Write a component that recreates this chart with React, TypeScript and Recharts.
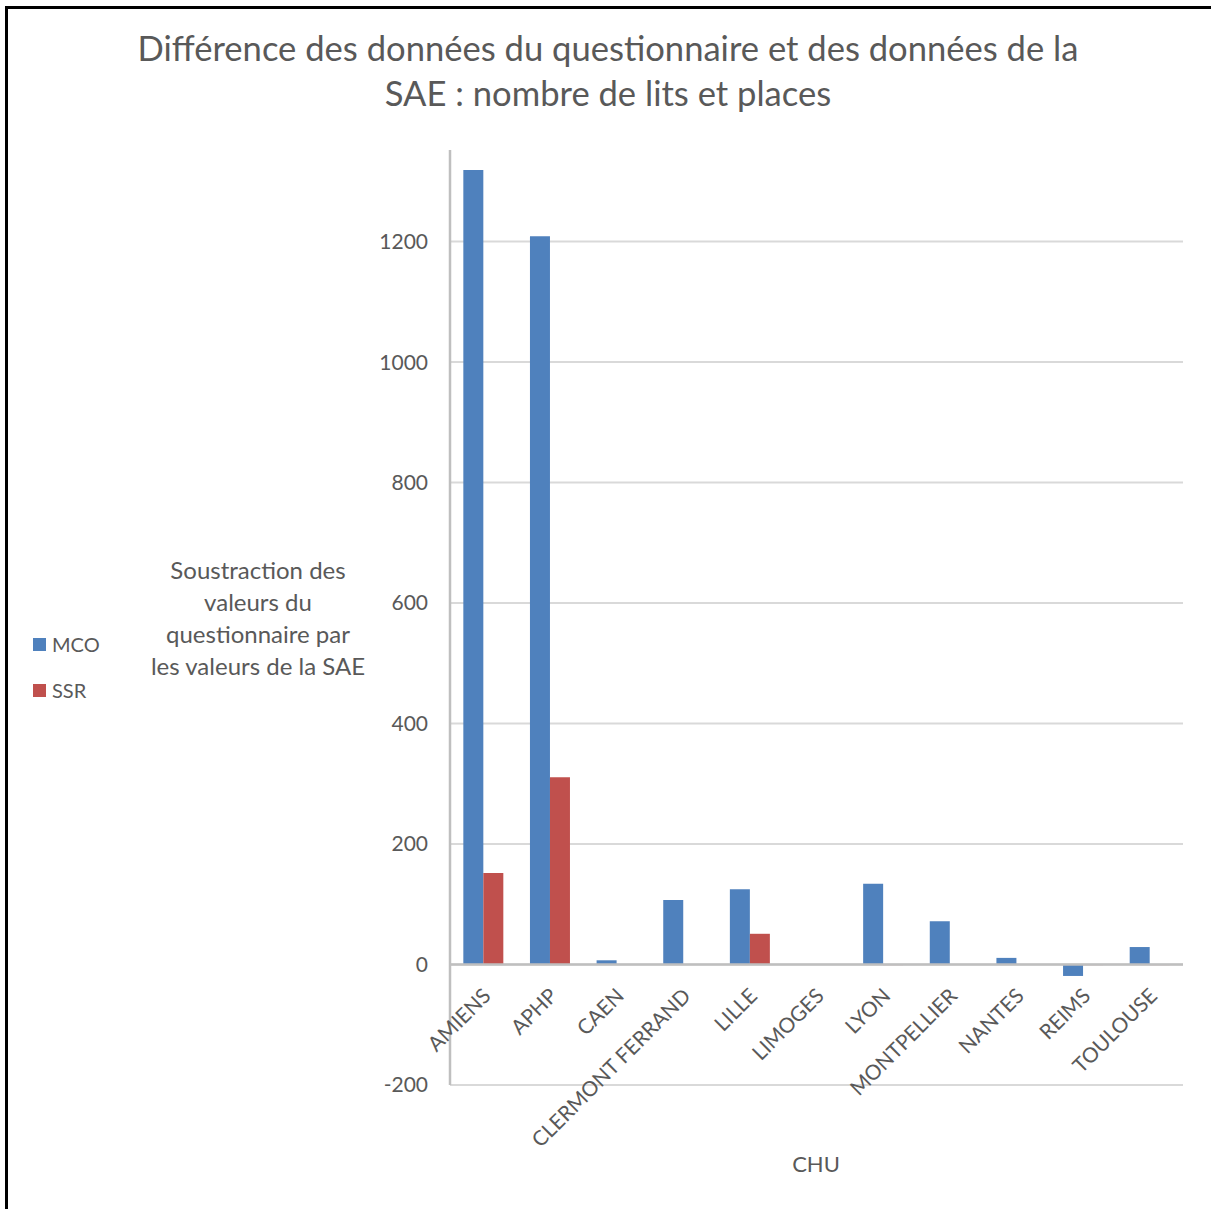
import React from 'react';
import { BarChart, Bar, XAxis, YAxis, CartesianGrid, ReferenceLine } from 'recharts';

const categories = ['AMIENS', 'APHP', 'CAEN', 'CLERMONT FERRAND', 'LILLE', 'LIMOGES', 'LYON', 'MONTPELLIER', 'NANTES', 'REIMS', 'TOULOUSE'];
const mcoValues = [1319, 1209, 7, 107, 125, 0, 134, 72, 11, -19, 29];
const ssrValues = [152, 311, 0, 0, 51, 0, -1, 0, 0, -1, -1];
const yTicks = [-200, 0, 200, 400, 600, 800, 1000, 1200];
const yDomain: [number, number] = [-200, 1352];
const titleLines = ['Différence des données du questionnaire et des données de la', 'SAE : nombre de lits et places'];
const yLabelLines = ['Soustraction des', 'valeurs du', 'questionnaire par', 'les valeurs de la SAE'];
const xLabel = 'CHU';
const seriesNames = ['MCO', 'SSR'];
const seriesColors = ['#4F81BD', '#C0504D'];

const data = categories.map((c, i) => ({ name: c, MCO: mcoValues[i], SSR: ssrValues[i] }));

const W = 1211;
const H = 1209;
const M = { top: 150, right: 28, bottom: 123, left: 370 };
const plotH = H - M.top - M.bottom - 1;
const zeroY = M.top + plotH * (yDomain[1] - 0) / (yDomain[1] - yDomain[0]);
const FONT = 'Lato, "Open Sans", sans-serif';
const GRAY = '#595959';

const XTick = (props: any) => {
  const { x, payload } = props;
  const ax = x + 5;
  const ay = zeroY + 29;
  return (
    <text x={ax} y={ay} textAnchor="end" fill={GRAY} fontSize={20.8} fontFamily={FONT}
      transform={`rotate(-45 ${ax} ${ay})`} dominantBaseline="middle">
      {payload.value}
    </text>
  );
};

export default function App() {
  return (
    <div style={{ position: 'absolute', left: 0, top: 0, width: W, height: H, background: '#fff', overflow: 'hidden' }}>
      <div style={{ position: 'absolute', left: 5, top: 6, width: W, height: H, borderTop: '3px solid #000', borderLeft: '3px solid #000', boxSizing: 'border-box' }} />
      <div style={{ position: 'absolute', left: 0, top: 0, width: W, height: H }}>
        <BarChart width={W} height={H} data={data} margin={M} barCategoryGap="20%" barGap={0}>
          <CartesianGrid vertical={false} stroke="#d9d9d9" strokeWidth={2} horizontalValues={yTicks} />
          <XAxis dataKey="name" axisLine={false} tickLine={false} tick={<XTick />} interval={0} height={1} />
          <YAxis domain={yDomain} ticks={yTicks} allowDataOverflow width={80} tickSize={0} tickMargin={22}
            axisLine={{ stroke: '#bfbfbf', strokeWidth: 2.5 }} tickLine={false}
            tick={{ fill: GRAY, fontSize: 21, fontFamily: FONT }} />
          <ReferenceLine y={0} stroke="#bfbfbf" strokeWidth={2.5} />
          <Bar dataKey="MCO" fill={seriesColors[0]} isAnimationActive={false} />
          <Bar dataKey="SSR" fill={seriesColors[1]} isAnimationActive={false} />
        </BarChart>
      </div>
      <div style={{ position: 'absolute', left: 33, top: 621, fontFamily: FONT, fontSize: 20, color: GRAY }}>
        {seriesNames.map((n, i) => (
          <div key={n} style={{ display: 'flex', alignItems: 'center', height: 46 }}>
            <span style={{ display: 'inline-block', width: 13, height: 13, background: seriesColors[i], marginRight: 6 }} />
            <span>{n}</span>
          </div>
        ))}
      </div>
      <div style={{ position: 'absolute', left: 0, top: 25, width: 1216, textAlign: 'center', fontFamily: FONT, fontSize: 34.6, color: GRAY, lineHeight: '45px' }}>
        {titleLines.map((l) => <div key={l}>{l}</div>)}
      </div>
      <div style={{ position: 'absolute', left: 118, top: 554, width: 280, textAlign: 'center', fontFamily: FONT, fontSize: 24, color: GRAY, lineHeight: '32px' }}>
        {yLabelLines.map((l) => <div key={l}>{l}</div>)}
      </div>
      <div style={{ position: 'absolute', left: 716, top: 1150, width: 200, textAlign: 'center', fontFamily: FONT, fontSize: 22, color: GRAY }}>
        {xLabel}
      </div>
    </div>
  );
}
